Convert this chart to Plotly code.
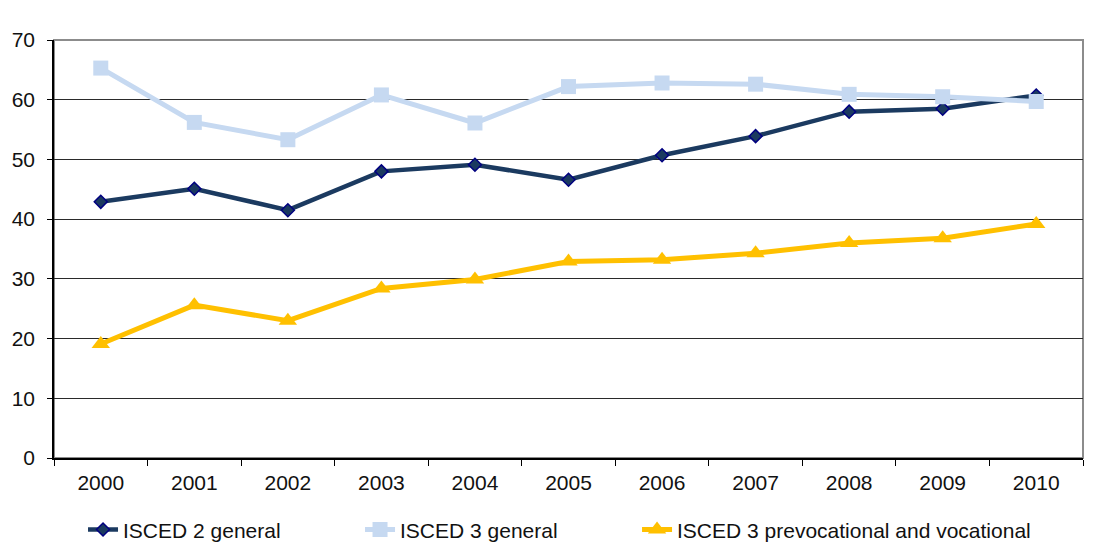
import plotly.graph_objects as go

years = ["2000", "2001", "2002", "2003", "2004", "2005", "2006", "2007", "2008", "2009", "2010"]
isced2_general = [42.9, 45.1, 41.5, 48.0, 49.1, 46.6, 50.7, 53.9, 58.0, 58.5, 60.7]
isced3_general = [65.3, 56.2, 53.3, 60.8, 56.1, 62.2, 62.8, 62.6, 60.9, 60.5, 59.7]
isced3_vocational = [19.1, 25.6, 23.0, 28.4, 29.9, 32.9, 33.2, 34.3, 36.0, 36.8, 39.2]
y_ticks = [0, 10, 20, 30, 40, 50, 60, 70]

fig = go.Figure()
fig.add_trace(go.Scatter(
    x=years, y=isced2_general, name="ISCED 2 general", mode="lines+markers",
    line=dict(color="#1B3A60", width=4.5), legend="legend",
    marker=dict(symbol="diamond", size=10, color="#1B3A60", line=dict(color="#000080", width=1.5)),
))
fig.add_trace(go.Scatter(
    x=years, y=isced3_general, name="ISCED 3 general", mode="lines+markers",
    line=dict(color="#C6D9F1", width=5), legend="legend2",
    marker=dict(symbol="square", size=15, color="#C6D9F1"),
))
fig.add_trace(go.Scatter(
    x=years, y=isced3_vocational, name="ISCED 3 prevocational and vocational", mode="lines+markers",
    line=dict(color="#FFC000", width=5), legend="legend3",
    marker=dict(symbol="triangle-up", size=16, color="#FFC000"),
))

fig.add_shape(type="rect", xref="paper", yref="paper", x0=0, x1=1, y0=0, y1=1,
              line=dict(color="#8C8C8C", width=2), layer="below")

leg_common = dict(orientation="h", y=-0.172, yanchor="middle", xanchor="left",
                  font=dict(size=21), bgcolor="rgba(0,0,0,0)")

fig.update_layout(
    width=1089, height=551,
    margin=dict(l=46, r=14, t=32, b=101, autoexpand=False),
    paper_bgcolor="white", plot_bgcolor="white",
    font=dict(family="Liberation Sans, Arial, sans-serif", size=21, color="#111111"),
    showlegend=True,
    legend=dict(x=0.0282, **leg_common),
    legend2=dict(x=0.2974, **leg_common),
    legend3=dict(x=0.5666, **leg_common),
)
fig.update_xaxes(
    type="category", tickson="boundaries", ticks="outside", ticklen=6, tickcolor="black",
    showline=True, linecolor="black", linewidth=1.5, showgrid=False, automargin=False,
    ticklabelstandoff=5, range=[-0.5, 10.5],
)
fig.update_yaxes(
    range=[0, 70], tickvals=y_ticks, ticks="outside", ticklen=5, tickcolor="black",
    showline=True, linecolor="black", linewidth=1.5, automargin=False,
    showgrid=True, gridcolor="#2a2a2a", gridwidth=1, zeroline=False,
    ticklabelstandoff=8,
)

fig.write_html("out.html")
